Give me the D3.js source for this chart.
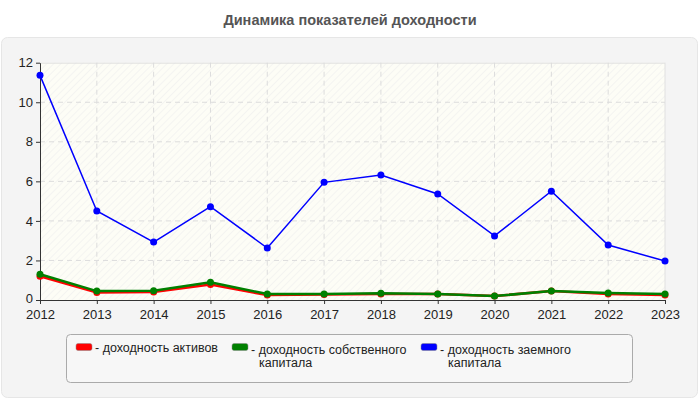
<!DOCTYPE html>
<html>
<head>
<meta charset="utf-8">
<script src="https://cdn.jsdelivr.net/npm/d3@7"></script>
<style>
  body { margin: 0; background: #fff; font-family: "Liberation Sans", Arial, sans-serif; }
  svg { display: block; }
</style>
</head>
<body>
<div id="chart"></div>
<script>
const years = [2012, 2013, 2014, 2015, 2016, 2017, 2018, 2019, 2020, 2021, 2022, 2023];
const assetsReturn = [1.2, 0.38, 0.4, 0.78, 0.25, 0.28, 0.3, 0.3, 0.2, 0.45, 0.3, 0.25];
const equityReturn = [1.3, 0.45, 0.47, 0.9, 0.3, 0.3, 0.34, 0.3, 0.2, 0.45, 0.35, 0.3];
const debtReturn = [11.36, 4.5, 2.93, 4.72, 2.63, 5.95, 6.32, 5.36, 3.24, 5.5, 2.78, 1.97];
const yTicks = [0, 2, 4, 6, 8, 10, 12];

const seriesNames = [['- доходность активов'], ['- доходность собственного', 'капитала'], ['- доходность заемного', 'капитала']];
const seriesColors = ['#ff0000', '#008000', '#0000ff'];
const seriesValues = [assetsReturn, equityReturn, debtReturn];

const W = 700, H = 400;
const margin = { top: 62.7, right: 35, bottom: 100, left: 40 };
const cw = W - margin.left - margin.right;
const ch = H - margin.top - margin.bottom;

const svg = d3.select('#chart').append('svg').attr('width', W).attr('height', H);

// hatch pattern for plot area
const defs = svg.append('defs');
const pat = defs.append('pattern').attr('id', 'hatch')
  .attr('patternUnits', 'userSpaceOnUse').attr('width', 5).attr('height', 5)
  .attr('patternTransform', 'rotate(45)');
pat.append('rect').attr('width', 5).attr('height', 5).attr('fill', '#fdfdf6');
pat.append('line').attr('x1', 0).attr('y1', 0).attr('x2', 0).attr('y2', 5)
  .attr('stroke', '#ececec').attr('stroke-width', 1);

// title
svg.append('text').attr('x', W / 2).attr('y', 25)
  .attr('text-anchor', 'middle').style('font-size', '14.5px').style('font-weight', 'bold')
  .style('fill', '#555').text('Динамика показателей доходности');

// panel
svg.append('rect').attr('x', 1.5).attr('y', 37.5).attr('width', 696).attr('height', 360)
  .attr('rx', 6).attr('fill', '#f4f4f4').attr('stroke', '#e6e6e6');

const g = svg.append('g').attr('transform', 'translate(' + margin.left + ',' + margin.top + ')');

const x = d3.scalePoint().domain(years).range([0, cw]);
const y = d3.scaleLinear().domain([0, 12]).range([ch, 0]);

g.append('rect').attr('width', cw).attr('height', ch).attr('fill', 'url(#hatch)');
g.append('line').attr('x1', 0).attr('x2', cw).attr('y1', 0.5).attr('y2', 0.5).attr('stroke', '#e0e0e0');
g.append('line').attr('x1', cw).attr('x2', cw).attr('y1', 0).attr('y2', ch).attr('stroke', '#e0e0e0');

// grid
yTicks.slice(1, -1).forEach(t => {
  g.append('line').attr('x1', 0).attr('x2', cw).attr('y1', y(t)).attr('y2', y(t))
    .attr('stroke', '#dcdcdc').attr('stroke-dasharray', '5,4');
});
years.slice(1, -1).forEach(yr => {
  g.append('line').attr('x1', x(yr)).attr('x2', x(yr)).attr('y1', 0).attr('y2', ch)
    .attr('stroke', '#dcdcdc').attr('stroke-dasharray', '5,4');
});

// axes
const xAxis = g.append('g').attr('transform', 'translate(0,' + ch + ')')
  .call(d3.axisBottom(x).tickSize(4).tickSizeOuter(0));
const yAxis = g.append('g').call(d3.axisLeft(y).tickValues(yTicks).tickSize(4).tickSizeOuter(0));
[xAxis, yAxis].forEach(a => {
  a.select('.domain').attr('stroke', '#333');
  a.selectAll('.tick line').attr('stroke', '#333');
  a.selectAll('text').style('font-size', '13px').style('fill', '#222')
    .style('font-family', '"Liberation Sans", Arial, sans-serif');
});
xAxis.selectAll('text').attr('dy', '0.95em');
yAxis.selectAll('.tick').filter(d => d === 0).select('text').attr('dy', '0.2em');

// lines
const line = d3.line().x((d, i) => x(years[i])).y(d => y(d));
const widths = [2.5, 2.5, 1.5];
seriesValues.forEach((vals, k) => {
  g.append('path').datum(vals).attr('d', line).attr('fill', 'none')
    .attr('stroke', seriesColors[k]).attr('stroke-width', widths[k]);
  g.selectAll('.pt' + k).data(vals).enter().append('circle')
    .attr('cx', (d, i) => x(years[i])).attr('cy', d => y(d))
    .attr('r', 3.5).attr('fill', seriesColors[k]);
});

// legend
svg.append('rect').attr('x', 66.5).attr('y', 334.5).attr('width', 566).attr('height', 48)
  .attr('rx', 4).attr('fill', '#f7f7f7').attr('stroke', '#aaa');
const legX = [76, 232, 421];
seriesNames.forEach((lines, k) => {
  svg.append('rect').attr('x', legX[k]).attr('y', 343.5).attr('width', 16).attr('height', 7)
    .attr('rx', 2).attr('fill', seriesColors[k]).attr('stroke', '#888').attr('stroke-width', 0.5);
  const t = svg.append('text').attr('x', legX[k] + 19).attr('y', 352)
    .style('font-size', '12.5px').style('fill', '#222');
  if (lines.length === 1) {
    t.text(lines[0]);
  } else {
    t.attr('y', 354);
    t.append('tspan').attr('x', legX[k] + 19).text(lines[0]);
    t.append('tspan').attr('x', legX[k] + 27).attr('dy', '1.0em').text(lines[1]);
  }
});
</script>
</body>
</html>
